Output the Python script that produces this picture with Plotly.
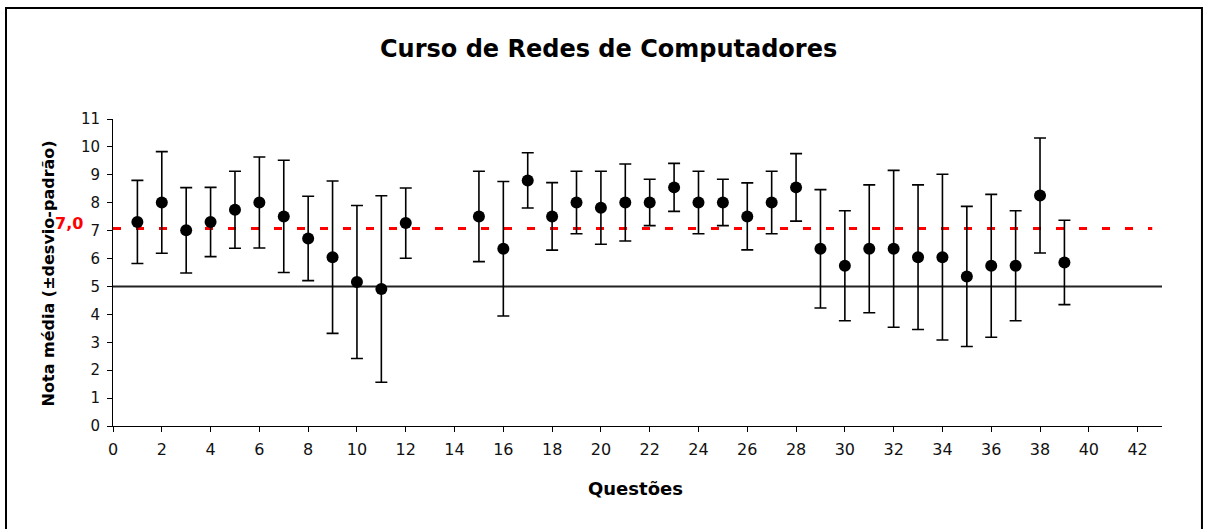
import plotly.graph_objects as go

# ---- data ----
questoes = [1, 2, 3, 4, 5, 6, 7, 8, 9, 10, 11, 12,
            15, 16, 17, 18, 19, 20, 21, 22, 23, 24, 25, 26, 27, 28,
            29, 30, 31, 32, 33, 34, 35, 36, 37, 38, 39]
media = [7.31, 8.01, 7.01, 7.31, 7.75, 8.01, 7.51, 6.72, 6.05, 5.16, 4.91, 7.27,
         7.51, 6.35, 8.80, 7.51, 8.01, 7.82, 8.01, 8.01, 8.55, 8.01, 8.01, 7.51, 8.01, 8.55,
         6.35, 5.74, 6.35, 6.35, 6.05, 6.05, 5.36, 5.74, 5.74, 8.26, 5.86]
desvio = [1.49, 1.82, 1.53, 1.24, 1.38, 1.63, 2.01, 1.51, 2.73, 2.74, 3.34, 1.26,
          1.62, 2.41, 0.99, 1.21, 1.12, 1.31, 1.38, 0.83, 0.86, 1.12, 0.83, 1.20, 1.12, 1.21,
          2.12, 1.97, 2.29, 2.81, 2.59, 2.97, 2.51, 2.56, 1.97, 2.06, 1.51]

x_ticks = list(range(0, 43, 2))
y_ticks = list(range(0, 12))
linha_aprovacao = 5.0
linha_meta = 7.08
rotulo_meta = "7,0"

titulo = "Curso de Redes de Computadores"
titulo_x = "Questões"
titulo_y = "Nota média (±desvio-padrão)"

FONT = "DejaVu Sans, Verdana, Arial, sans-serif"

fig = go.Figure()
fig.add_trace(go.Scatter(
    x=questoes, y=media, mode="markers",
    marker=dict(color="black", size=12),
    error_y=dict(type="data", array=desvio, visible=True,
                 color="black", thickness=1.6, width=6),
    showlegend=False, hoverinfo="x+y",
))

shapes = [
    dict(type="line", xref="x", yref="y", x0=0, x1=43,
         y0=linha_aprovacao, y1=linha_aprovacao,
         line=dict(color="#222222", width=2), layer="below"),
    dict(type="line", xref="x", yref="y", x0=0, x1=42.6,
         y0=linha_meta, y1=linha_meta,
         line=dict(color="#ff0000", width=3, dash="8px,15px"), layer="below"),
    dict(type="rect", xref="paper", yref="paper",
         x0=-0.102, x1=1.0381, y0=-0.40, y1=1.3616,
         line=dict(color="black", width=2), fillcolor="rgba(0,0,0,0)"),
]

annotations = [
    dict(text=titulo, xref="paper", yref="paper", x=0.4721, y=1.227,
         xanchor="center", yanchor="middle", showarrow=False,
         font=dict(family=FONT, size=24, color="black", weight="bold")),
    dict(text=titulo_x, xref="paper", yref="paper", x=0.4977, y=-0.205,
         xanchor="center", yanchor="middle", showarrow=False,
         font=dict(family=FONT, size=18, color="black", weight="bold")),
    dict(text=titulo_y, xref="paper", yref="paper", x=-0.062, y=0.497,
         xanchor="center", yanchor="middle", showarrow=False, textangle=-90,
         font=dict(family=FONT, size=16, color="black", weight="bold")),
    dict(text=rotulo_meta, xref="paper", yref="paper", x=-0.0420, y=0.661,
         xanchor="center", yanchor="middle", showarrow=False,
         font=dict(family=FONT, size=16, color="#ff0000", weight="bold")),
]

fig.update_layout(
    width=1205, height=529,
    margin=dict(l=113, r=43, t=119, b=103, pad=0),
    paper_bgcolor="white", plot_bgcolor="white",
    shapes=shapes, annotations=annotations,
    font=dict(family=FONT, color="black"),
    xaxis=dict(range=[0, 43], tickvals=x_ticks, ticktext=[str(v) for v in x_ticks],
               showgrid=False, zeroline=False, showline=True, linecolor="black",
               linewidth=1, ticks="outside", ticklen=5, tickcolor="black",
               tickfont=dict(family=FONT, size=16, color="#111111"),
               ticklabelstandoff=4),
    yaxis=dict(range=[0, 11], tickvals=y_ticks, ticktext=[str(v) for v in y_ticks],
               showgrid=False, zeroline=False, showline=True, linecolor="black",
               linewidth=1, ticks="outside", ticklen=5, tickcolor="black",
               tickfont=dict(family=FONT, size=15, color="#111111"),
               ticklabelstandoff=4),
)

fig.write_html("out.html", config={"displayModeBar": False},
               post_script="document.body.style.margin='0px';document.body.style.overflow='hidden';")
